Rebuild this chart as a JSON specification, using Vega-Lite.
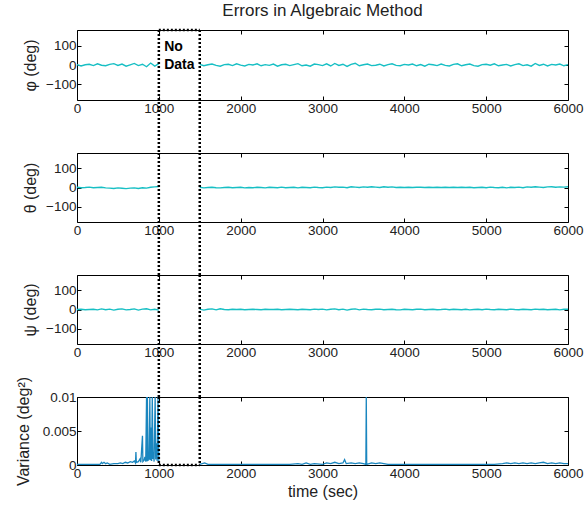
{
  "$schema": "https://vega.github.io/schema/vega-lite/v6.json",
  "background": "white",
  "padding": {"left": 14, "top": 1, "right": 0, "bottom": 0},
  "spacing": 53,
  "bounds": "flush",
  "config": {
    "font": "Liberation Sans",
    "view": {"stroke": "black", "strokeWidth": 1},
    "axis": {"grid": false, "domain": false, "tickColor": "black", "tickSize": -4, "labelFlush": false, "labelOverlap": false,
      "labelFont": "Liberation Sans", "labelFontSize": 13.5, "labelColor": "#222", "labelPadding": 5,
      "titleFont": "Liberation Sans", "titleFontSize": 16, "titleFontWeight": "normal", "titleColor": "#222", "titlePadding": 7}
  },
  "datasets": {
    "gap": [{"start": 1000, "end": 1500}],
    "note": [{"label": "No Data"}],
    "att": [
      {"t":0,"phi":2,"theta":1,"psi":0},{"t":50,"phi":-5,"theta":-1,"psi":1},{"t":100,"phi":1,"theta":0,"psi":-1},{"t":150,"phi":4,"theta":2,"psi":0},{"t":200,"phi":-3,"theta":-1,"psi":1},{"t":250,"phi":6,"theta":0,"psi":-2},{"t":300,"phi":-1,"theta":1,"psi":3},{"t":350,"phi":-4,"theta":-2,"psi":-1},{"t":400,"phi":3,"theta":-3,"psi":2},{"t":450,"phi":7,"theta":-5,"psi":-3},{"t":500,"phi":-2,"theta":-2,"psi":1},{"t":550,"phi":5,"theta":-4,"psi":3},{"t":600,"phi":-6,"theta":-6,"psi":-2},{"t":650,"phi":1,"theta":-3,"psi":0},{"t":700,"phi":8,"theta":-2,"psi":3},{"t":750,"phi":-3,"theta":-5,"psi":-3},{"t":800,"phi":4,"theta":-1,"psi":2},{"t":850,"phi":-9,"theta":-3,"psi":4},{"t":900,"phi":10,"theta":1,"psi":-2},{"t":950,"phi":-6,"theta":3,"psi":1},{"t":1000,"phi":7,"theta":5,"psi":-3},
      {"t":1250,"phi":null,"theta":null,"psi":null},
      {"t":1500,"phi":3,"theta":1,"psi":2},{"t":1550,"phi":-4,"theta":-2,"psi":-3},{"t":1600,"phi":1,"theta":0,"psi":1},{"t":1650,"phi":5,"theta":1,"psi":3},{"t":1700,"phi":-2,"theta":-1,"psi":-2},{"t":1750,"phi":-6,"theta":-2,"psi":4},{"t":1800,"phi":2,"theta":0,"psi":0},{"t":1850,"phi":4,"theta":1,"psi":-1},{"t":1900,"phi":-3,"theta":-1,"psi":1},{"t":1950,"phi":6,"theta":0,"psi":0},
      {"t":2000,"phi":-1,"theta":1,"psi":1},{"t":2050,"phi":-5,"theta":-2,"psi":-1},{"t":2100,"phi":3,"theta":0,"psi":0},{"t":2150,"phi":0,"theta":-1,"psi":1},{"t":2200,"phi":6,"theta":1,"psi":0},{"t":2250,"phi":-4,"theta":0,"psi":-1},{"t":2300,"phi":2,"theta":-2,"psi":1},{"t":2350,"phi":-2,"theta":1,"psi":0},{"t":2400,"phi":5,"theta":0,"psi":0},{"t":2450,"phi":-6,"theta":-1,"psi":1},
      {"t":2500,"phi":1,"theta":2,"psi":-1},{"t":2550,"phi":4,"theta":-1,"psi":0},{"t":2600,"phi":-3,"theta":0,"psi":1},{"t":2650,"phi":2,"theta":1,"psi":0},{"t":2700,"phi":7,"theta":-2,"psi":-1},{"t":2750,"phi":-4,"theta":1,"psi":1},{"t":2800,"phi":0,"theta":0,"psi":0},{"t":2850,"phi":-6,"theta":-1,"psi":-1},{"t":2900,"phi":5,"theta":2,"psi":2},{"t":2950,"phi":2,"theta":0,"psi":0},
      {"t":3000,"phi":-3,"theta":-1,"psi":2},{"t":3050,"phi":6,"theta":2,"psi":-2},{"t":3100,"phi":-5,"theta":0,"psi":1},{"t":3150,"phi":8,"theta":3,"psi":3},{"t":3200,"phi":-2,"theta":1,"psi":-1},{"t":3250,"phi":4,"theta":2,"psi":2},{"t":3300,"phi":-7,"theta":-1,"psi":-3},{"t":3350,"phi":3,"theta":4,"psi":1},{"t":3400,"phi":9,"theta":2,"psi":3},{"t":3450,"phi":-4,"theta":0,"psi":-2},
      {"t":3500,"phi":1,"theta":3,"psi":2},{"t":3550,"phi":5,"theta":1,"psi":0},{"t":3600,"phi":-3,"theta":4,"psi":-1},{"t":3650,"phi":-1,"theta":2,"psi":1},{"t":3700,"phi":4,"theta":0,"psi":2},{"t":3750,"phi":-5,"theta":4,"psi":-1},{"t":3800,"phi":2,"theta":1,"psi":0},{"t":3850,"phi":6,"theta":3,"psi":1},{"t":3900,"phi":-2,"theta":0,"psi":-1},{"t":3950,"phi":-4,"theta":1,"psi":-2},
      {"t":4000,"phi":3,"theta":0,"psi":1},{"t":4050,"phi":0,"theta":1,"psi":0},{"t":4100,"phi":5,"theta":0,"psi":-1},{"t":4150,"phi":-4,"theta":1,"psi":1},{"t":4200,"phi":2,"theta":1,"psi":2},{"t":4250,"phi":-6,"theta":0,"psi":-1},{"t":4300,"phi":4,"theta":1,"psi":0},{"t":4350,"phi":1,"theta":0,"psi":1},{"t":4400,"phi":-3,"theta":1,"psi":-1},{"t":4450,"phi":5,"theta":0,"psi":0},
      {"t":4500,"phi":-2,"theta":1,"psi":2},{"t":4550,"phi":-5,"theta":0,"psi":-1},{"t":4600,"phi":3,"theta":1,"psi":1},{"t":4650,"phi":6,"theta":0,"psi":0},{"t":4700,"phi":-4,"theta":1,"psi":-1},{"t":4750,"phi":1,"theta":0,"psi":1},{"t":4800,"phi":5,"theta":1,"psi":-2},{"t":4850,"phi":-3,"theta":-1,"psi":0},{"t":4900,"phi":-6,"theta":0,"psi":1},{"t":4950,"phi":2,"theta":1,"psi":-1},
      {"t":5000,"phi":4,"theta":-1,"psi":2},{"t":5050,"phi":-1,"theta":2,"psi":0},{"t":5100,"phi":6,"theta":0,"psi":-1},{"t":5150,"phi":-4,"theta":-1,"psi":1},{"t":5200,"phi":0,"theta":1,"psi":0},{"t":5250,"phi":3,"theta":-2,"psi":-1},{"t":5300,"phi":-5,"theta":1,"psi":2},{"t":5350,"phi":2,"theta":0,"psi":0},{"t":5400,"phi":6,"theta":2,"psi":-1},{"t":5450,"phi":-3,"theta":-1,"psi":1},
      {"t":5500,"phi":1,"theta":3,"psi":0},{"t":5550,"phi":-6,"theta":1,"psi":-1},{"t":5600,"phi":8,"theta":4,"psi":2},{"t":5650,"phi":-2,"theta":2,"psi":0},{"t":5700,"phi":4,"theta":0,"psi":1},{"t":5750,"phi":-5,"theta":3,"psi":-1},{"t":5800,"phi":3,"theta":4,"psi":0},{"t":5850,"phi":0,"theta":1,"psi":1},{"t":5900,"phi":5,"theta":3,"psi":-2},{"t":5950,"phi":-4,"theta":2,"psi":1},{"t":6000,"phi":2,"theta":4,"psi":1}
    ],
    "var": [
      {"t":0,"v":0.0001},{"t":100,"v":0.0001},{"t":200,"v":0.0001},{"t":280,"v":0.0001},{"t":300,"v":0.0004},{"t":310,"v":0.0002},{"t":330,"v":0.0004},{"t":350,"v":0.0002},{"t":370,"v":0.0003},{"t":400,"v":0.0001},{"t":450,"v":0.0002},{"t":500,"v":0.0002},{"t":530,"v":0.0003},{"t":560,"v":0.0002},{"t":590,"v":0.0004},{"t":620,"v":0.0003},{"t":650,"v":0.0005},{"t":680,"v":0.0004},{"t":700,"v":0.0006},{"t":715,"v":0.0003},{"t":720,"v":0.0019},{"t":725,"v":0.0004},{"t":750,"v":0.0005},{"t":770,"v":0.0009},{"t":780,"v":0.0004},{"t":800,"v":0.0043},{"t":805,"v":0.0005},{"t":820,"v":0.0007},{"t":830,"v":0.0012},{"t":840,"v":0.0005},{"t":850,"v":0.01},{"t":855,"v":0.0005},{"t":860,"v":0.01},{"t":868,"v":0.0006},{"t":875,"v":0.0016},{"t":882,"v":0.0008},{"t":890,"v":0.01},{"t":896,"v":0.0007},{"t":905,"v":0.0055},{"t":912,"v":0.0006},{"t":920,"v":0.01},{"t":928,"v":0.0009},{"t":935,"v":0.0019},{"t":942,"v":0.0005},{"t":955,"v":0.01},{"t":962,"v":0.0008},{"t":972,"v":0.0032},{"t":980,"v":0.0006},{"t":990,"v":0.01},{"t":1000,"v":0.0003},
      {"t":1250,"v":null},
      {"t":1500,"v":0.0001},{"t":1560,"v":0.0003},{"t":1600,"v":0.0001},{"t":1800,"v":0.0001},{"t":2000,"v":0.0001},{"t":2200,"v":0.0001},{"t":2400,"v":0.0001},{"t":2600,"v":0.0001},{"t":2700,"v":0.0002},{"t":2750,"v":0.0001},{"t":2800,"v":0.0003},{"t":2850,"v":0.0001},{"t":2900,"v":0.0002},{"t":3000,"v":0.0001},{"t":3050,"v":0.0003},{"t":3100,"v":0.0002},{"t":3150,"v":0.0004},{"t":3200,"v":0.0002},{"t":3250,"v":0.0003},{"t":3270,"v":0.0008},{"t":3290,"v":0.0002},{"t":3350,"v":0.0003},{"t":3400,"v":0.0002},{"t":3450,"v":0.0003},{"t":3500,"v":0.0002},{"t":3530,"v":0.0001},{"t":3535,"v":0.01},{"t":3540,"v":0.0001},{"t":3600,"v":0.0003},{"t":3650,"v":0.0002},{"t":3700,"v":0.0003},{"t":3750,"v":0.0002},{"t":3800,"v":0.0001},{"t":4000,"v":0.0001},{"t":4200,"v":0.0001},{"t":4500,"v":0.0001},{"t":4800,"v":0.0001},{"t":5100,"v":0.0001},{"t":5200,"v":0.0002},{"t":5250,"v":0.0003},{"t":5300,"v":0.0002},{"t":5350,"v":0.0003},{"t":5400,"v":0.0002},{"t":5450,"v":0.0003},{"t":5500,"v":0.0002},{"t":5550,"v":0.0003},{"t":5600,"v":0.0002},{"t":5650,"v":0.0003},{"t":5700,"v":0.0004},{"t":5750,"v":0.0002},{"t":5800,"v":0.0003},{"t":5850,"v":0.0002},{"t":5900,"v":0.0003},{"t":5950,"v":0.0002},{"t":6000,"v":0.0002}
    ]
  },
  "vconcat": [
    {
      "width": 491, "height": 70,
      "title": {"text": "Errors in Algebraic Method", "font": "Liberation Sans", "fontSize": 17, "fontWeight": "normal", "color": "#222", "offset": 9, "anchor": "middle", "frame": "group"},
      "layer": [
        {"data": {"name": "att"}, "mark": {"type": "line", "color": "#17BFC4", "strokeWidth": 1.4},
          "encoding": {
            "x": {"field": "t", "type": "quantitative", "scale": {"domain": [0, 6000], "nice": false}, "axis": {"orient": "bottom", "title": null, "format": "d", "values": [0,1000,2000,3000,4000,5000,6000]}},
            "y": {"field": "phi", "type": "quantitative", "scale": {"domain": [-180, 180], "nice": false}, "axis": {"orient": "left", "title": "φ (deg)", "values": [-100,0,100]}}
          }},
        {"data": {"name": "gap"}, "mark": {"type": "rule", "color": "black", "strokeWidth": 2.5, "strokeDash": [2, 2]},
          "encoding": {
            "x": {"field": "start", "type": "quantitative", "scale": {"domain": [0, 6000], "nice": false}, "axis": {"orient": "top", "labels": false, "title": null, "values": [0,1000,2000,3000,4000,5000,6000]}},
            "y": {"datum": 180, "type": "quantitative", "scale": {"domain": [-180, 180], "nice": false}, "axis": {"orient": "right", "labels": false, "title": null, "values": [-100,0,100]}},
            "y2": {"datum": -453}
          }},
        {"data": {"name": "gap"}, "mark": {"type": "rule", "color": "black", "strokeWidth": 2.5, "strokeDash": [2, 2]},
          "encoding": {
            "x": {"field": "end", "type": "quantitative", "scale": {"domain": [0, 6000], "nice": false}, "axis": null},
            "y": {"datum": 180, "type": "quantitative", "scale": {"domain": [-180, 180], "nice": false}, "axis": null},
            "y2": {"datum": -453}
          }},
        {"data": {"name": "gap"}, "mark": {"type": "rule", "color": "black", "strokeWidth": 2.5, "strokeDash": [2, 2]},
          "encoding": {
            "x": {"field": "start", "type": "quantitative", "scale": {"domain": [0, 6000], "nice": false}, "axis": null},
            "x2": {"field": "end"},
            "y": {"datum": 180, "type": "quantitative", "scale": {"domain": [-180, 180], "nice": false}, "axis": null}
          }},
        {"data": {"name": "note"}, "mark": {"type": "text", "font": "Liberation Sans", "fontSize": 14, "fontWeight": "bold", "align": "left", "baseline": "top", "lineBreak": " ", "lineHeight": 18, "color": "black"},
          "encoding": {
            "x": {"datum": 1065, "type": "quantitative", "scale": {"domain": [0, 6000], "nice": false}, "axis": null},
            "y": {"datum": 130, "type": "quantitative", "scale": {"domain": [-180, 180], "nice": false}, "axis": null},
            "text": {"field": "label"}
          }}
      ],
      "resolve": {"axis": {"x": "independent", "y": "independent"}}
    },
    {
      "width": 491, "height": 69,
      "layer": [
        {"data": {"name": "att"}, "mark": {"type": "line", "color": "#17BFC4", "strokeWidth": 1.4},
          "encoding": {
            "x": {"field": "t", "type": "quantitative", "scale": {"domain": [0, 6000], "nice": false}, "axis": {"orient": "bottom", "title": null, "format": "d", "values": [0,1000,2000,3000,4000,5000,6000]}},
            "y": {"field": "theta", "type": "quantitative", "scale": {"domain": [-180, 180], "nice": false}, "axis": {"orient": "left", "title": "θ (deg)", "values": [-100,0,100]}}
          }},
        {"data": {"name": "gap"}, "mark": {"type": "rule", "color": "black", "strokeWidth": 2.5, "strokeDash": [2, 2]},
          "encoding": {
            "x": {"field": "start", "type": "quantitative", "scale": {"domain": [0, 6000], "nice": false}, "axis": {"orient": "top", "labels": false, "title": null, "values": [0,1000,2000,3000,4000,5000,6000]}},
            "y": {"datum": 180, "type": "quantitative", "scale": {"domain": [-180, 180], "nice": false}, "axis": {"orient": "right", "labels": false, "title": null, "values": [-100,0,100]}},
            "y2": {"datum": -457}
          }},
        {"data": {"name": "gap"}, "mark": {"type": "rule", "color": "black", "strokeWidth": 2.5, "strokeDash": [2, 2]},
          "encoding": {
            "x": {"field": "end", "type": "quantitative", "scale": {"domain": [0, 6000], "nice": false}, "axis": null},
            "y": {"datum": 180, "type": "quantitative", "scale": {"domain": [-180, 180], "nice": false}, "axis": null},
            "y2": {"datum": -457}
          }}
      ],
      "resolve": {"axis": {"x": "independent", "y": "independent"}}
    },
    {
      "width": 491, "height": 69,
      "layer": [
        {"data": {"name": "att"}, "mark": {"type": "line", "color": "#17BFC4", "strokeWidth": 1.4},
          "encoding": {
            "x": {"field": "t", "type": "quantitative", "scale": {"domain": [0, 6000], "nice": false}, "axis": {"orient": "bottom", "title": null, "format": "d", "values": [0,1000,2000,3000,4000,5000,6000]}},
            "y": {"field": "psi", "type": "quantitative", "scale": {"domain": [-180, 180], "nice": false}, "axis": {"orient": "left", "title": "ψ (deg)", "values": [-100,0,100]}}
          }},
        {"data": {"name": "gap"}, "mark": {"type": "rule", "color": "black", "strokeWidth": 2.5, "strokeDash": [2, 2]},
          "encoding": {
            "x": {"field": "start", "type": "quantitative", "scale": {"domain": [0, 6000], "nice": false}, "axis": {"orient": "top", "labels": false, "title": null, "values": [0,1000,2000,3000,4000,5000,6000]}},
            "y": {"datum": 180, "type": "quantitative", "scale": {"domain": [-180, 180], "nice": false}, "axis": {"orient": "right", "labels": false, "title": null, "values": [-100,0,100]}},
            "y2": {"datum": -457}
          }},
        {"data": {"name": "gap"}, "mark": {"type": "rule", "color": "black", "strokeWidth": 2.5, "strokeDash": [2, 2]},
          "encoding": {
            "x": {"field": "end", "type": "quantitative", "scale": {"domain": [0, 6000], "nice": false}, "axis": null},
            "y": {"datum": 180, "type": "quantitative", "scale": {"domain": [-180, 180], "nice": false}, "axis": null},
            "y2": {"datum": -457}
          }}
      ],
      "resolve": {"axis": {"x": "independent", "y": "independent"}}
    },
    {
      "width": 491, "height": 68,
      "layer": [
        {"data": {"name": "var"}, "mark": {"type": "line", "color": "#1A86BF", "strokeWidth": 1.3},
          "encoding": {
            "x": {"field": "t", "type": "quantitative", "scale": {"domain": [0, 6000], "nice": false}, "axis": {"orient": "bottom", "title": "time (sec)", "titlePadding": 4, "format": "d", "values": [0,1000,2000,3000,4000,5000,6000]}},
            "y": {"field": "v", "type": "quantitative", "scale": {"domain": [0, 0.01], "nice": false, "zero": false}, "axis": {"orient": "left", "title": "Variance (deg²)", "format": "~g", "values": [0, 0.005, 0.01], "titlePadding": 11}}
          }},
        {"data": {"name": "gap"}, "mark": {"type": "rule", "color": "black", "strokeWidth": 2.5, "strokeDash": [2, 2]},
          "encoding": {
            "x": {"field": "start", "type": "quantitative", "scale": {"domain": [0, 6000], "nice": false}, "axis": {"orient": "top", "labels": false, "title": null, "values": [0,1000,2000,3000,4000,5000,6000]}},
            "y": {"datum": 0.01, "type": "quantitative", "scale": {"domain": [0, 0.01], "nice": false, "zero": false}, "axis": {"orient": "right", "labels": false, "title": null, "values": [0, 0.005, 0.01]}},
            "y2": {"datum": 0}
          }},
        {"data": {"name": "gap"}, "mark": {"type": "rule", "color": "black", "strokeWidth": 2.5, "strokeDash": [2, 2]},
          "encoding": {
            "x": {"field": "end", "type": "quantitative", "scale": {"domain": [0, 6000], "nice": false}, "axis": null},
            "y": {"datum": 0.01, "type": "quantitative", "scale": {"domain": [0, 0.01], "nice": false, "zero": false}, "axis": null},
            "y2": {"datum": 0}
          }},
        {"data": {"name": "gap"}, "mark": {"type": "rule", "color": "black", "strokeWidth": 2.5, "strokeDash": [2, 2]},
          "encoding": {
            "x": {"field": "start", "type": "quantitative", "scale": {"domain": [0, 6000], "nice": false}, "axis": null},
            "x2": {"field": "end"},
            "y": {"datum": 0, "type": "quantitative", "scale": {"domain": [0, 0.01], "nice": false, "zero": false}, "axis": null}
          }}
      ],
      "resolve": {"axis": {"x": "independent", "y": "independent"}}
    }
  ]
}
